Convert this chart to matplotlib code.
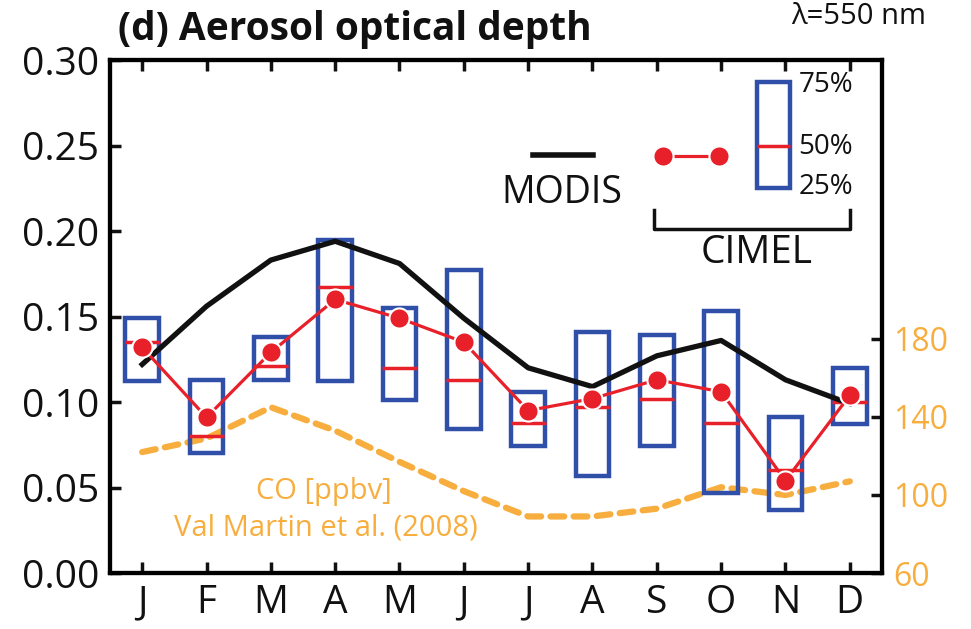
import matplotlib
matplotlib.use("Agg")
import matplotlib.pyplot as plt

plt.rcParams.update({
    "font.family": ["Open Sans", "DejaVu Sans"],
    "axes.linewidth": 3,
})

BLUE = "#2F4FA8"
RED = "#E8202A"
ORANGE = "#F7AE3E"
INK = "#111111"

months = ["J", "F", "M", "A", "M", "J", "J", "A", "S", "O", "N", "D"]
month_num = list(range(1, 13))

modis = [0.122, 0.156, 0.183, 0.194, 0.181, 0.149, 0.120, 0.109, 0.127, 0.136, 0.113, 0.099]
cimel_mean = [0.132, 0.091, 0.129, 0.160, 0.149, 0.135, 0.095, 0.102, 0.113, 0.106, 0.054, 0.104]
cimel_q75 = [0.149, 0.113, 0.138, 0.195, 0.155, 0.177, 0.106, 0.141, 0.139, 0.153, 0.091, 0.120]
cimel_q25 = [0.112, 0.070, 0.113, 0.112, 0.101, 0.084, 0.074, 0.057, 0.074, 0.047, 0.037, 0.087]
cimel_q50 = [0.135, 0.080, 0.121, 0.167, 0.120, 0.113, 0.088, 0.097, 0.102, 0.088, 0.060, 0.100]
co_ppbv = [122, 129, 145, 133, 117, 102, 89, 89, 93, 104, 100, 107]

y_ticks = [0.00, 0.05, 0.10, 0.15, 0.20, 0.25, 0.30]
co_ticks = [60, 100, 140, 180]

fig = plt.figure(figsize=(9.71, 6.29), dpi=100)
ax = fig.add_axes([0.1133, 0.089, 0.795, 0.8156])
ax2 = ax.twinx()

# CO on the right axis, drawn behind everything
ax2.plot(month_num, co_ppbv, color=ORANGE, lw=4.5, ls=(0, (2.2, 1.5)),
         solid_capstyle="round", dash_capstyle="round", zorder=1)
ax2.set_ylim(60, 323)
ax2.set_yticks(co_ticks)
ax2.tick_params(axis="y", direction="in", length=8, width=2.5, pad=8,
                labelsize=23, labelcolor=ORANGE, color=INK)
for s in ax2.spines.values():
    s.set_linewidth(3)
ax.set_zorder(ax2.get_zorder() + 1)
ax.patch.set_visible(False)

# CIMEL quartile boxes and medians
heights = [t - b for t, b in zip(cimel_q75, cimel_q25)]
ax.bar(month_num, heights, bottom=cimel_q25, width=0.52, fill=False,
       edgecolor=BLUE, linewidth=3.2, zorder=2)
ax.hlines(cimel_q50, [m - 0.27 for m in month_num], [m + 0.27 for m in month_num],
          color=RED, lw=2.5, zorder=3)

# MODIS
ax.plot(month_num, modis, color=INK, lw=3.8, zorder=4)
# CIMEL mean
ax.plot(month_num, cimel_mean, color=RED, lw=2.3, marker="o", ms=14.5,
        mfc=RED, mec="white", mew=1.5, zorder=5)

ax.set_xlim(0.5, 12.5)
ax.set_ylim(0, 0.30)
ax.set_xticks(month_num)
ax.set_xticklabels(months)
ax.set_yticks(y_ticks)
ax.set_yticklabels([f"{v:.2f}" for v in y_ticks])
ax.tick_params(axis="x", direction="in", length=8, width=2.5, pad=8,
               labelsize=28, top=True, colors=INK)
ax.tick_params(axis="y", direction="in", length=8, width=2.5, pad=8,
               labelsize=28, colors=INK)
for s in ax.spines.values():
    s.set_linewidth(3)

# legend drawn by hand inside the axes
ax.plot([7.08, 8.01], [0.2444, 0.2444], color=INK, lw=4, zorder=6)
ax.text(7.53, 0.222, "MODIS", ha="center", va="center", fontsize=27, color=INK)
ax.plot([9.10, 9.96], [0.2436, 0.2436], color=RED, lw=2.3, marker="o", ms=14.5,
        mfc=RED, mec="white", mew=1.5, zorder=6)
ax.bar([10.81], [0.287 - 0.225], bottom=[0.225], width=0.51, fill=False,
       edgecolor=BLUE, linewidth=3.2, zorder=6)
ax.hlines([0.2497], [10.55], [11.07], color=RED, lw=2.5, zorder=7)
ax.text(11.2, 0.2854, "75%", ha="left", va="center", fontsize=20, color=INK)
ax.text(11.2, 0.2490, "50%", ha="left", va="center", fontsize=20, color=INK)
ax.text(11.2, 0.2257, "25%", ha="left", va="center", fontsize=20, color=INK)
ax.plot([8.96, 8.96, 12.0, 12.0], [0.2123, 0.2012, 0.2012, 0.2123],
        color=INK, lw=2.5, zorder=6)
ax.text(10.55, 0.187, "CIMEL", ha="center", va="center", fontsize=28, color=INK)

ax.text(3.82, 0.0474, "CO [ppbv]", ha="center", va="center", fontsize=21, color=ORANGE)
ax.text(3.85, 0.0263, "Val Martin et al. (2008)", ha="center", va="center",
        fontsize=21, color=ORANGE)

fig.text(0.1215, 0.936, "(d) Aerosol optical depth", fontsize=28,
         fontweight="bold", ha="left", va="baseline", color=INK)
fig.text(0.815, 0.962, "λ=550 nm", fontsize=21, ha="left", va="baseline", color=INK)

fig.savefig("out.png", dpi=100)
